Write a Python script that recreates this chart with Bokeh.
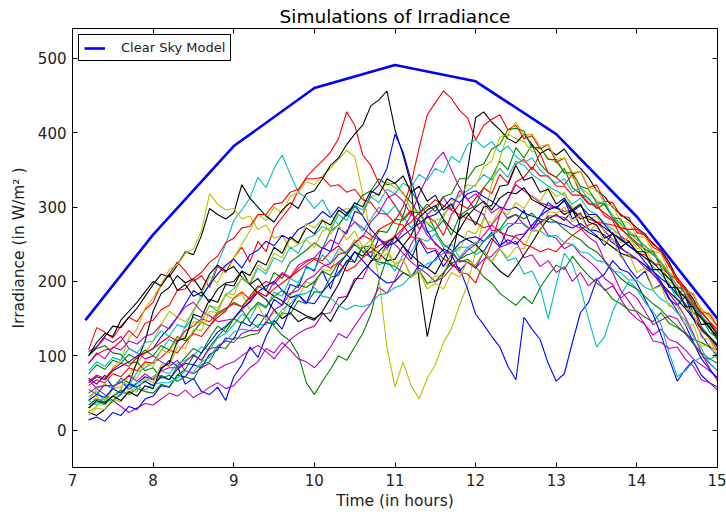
from bokeh.plotting import figure
from bokeh.models import LinearAxis, Range1d, FixedTicker, Legend, LegendItem
from bokeh.embed import file_html
from bokeh.resources import INLINE

# ---------------- data ----------------
# simulation time grid: 7.2 h to 15.0 h, every 0.1 h (79 samples)
sim_hours = [round(7.2 + 0.1 * i, 1) for i in range(79)]

clear_hours = [7.16, 8, 9, 10, 11, 12, 13, 14, 15]
clear_sky = [148, 263, 382, 460, 491, 469, 398, 287, 150]

x_ticks = [7, 8, 9, 10, 11, 12, 13, 14, 15]
y_ticks = [0, 100, 200, 300, 400, 500]

sim_00 = [70, 62, 74, 58, 66, 55, 63, 72,
          68, 82, 94, 86, 62, 70, 52, 48, 58, 40,
          72, 88, 112, 98, 126, 148, 136, 164, 182, 170,
          198, 214, 190, 222, 236, 226, 248, 232, 258, 244,
          262, 248, 230, 256, 238, 242, 220, 236, 214, 226,
          218, 240, 258, 246, 272, 280, 296, 270, 288, 306,
          298, 310, 284, 292, 270, 262, 248, 266, 236, 218,
          204, 214, 190, 196, 176, 168, 180, 150, 138, 126,
          112]
sim_01 = [55, 48, 62, 56, 70, 64, 58, 66,
          60, 74, 68, 86, 98, 110, 104, 124, 140, 132,
          150, 162, 146, 138, 156, 140, 128, 120, 102, 64,
          48, 66, 82, 100, 94, 112, 130, 156, 200, 232,
          262, 288, 322, 304, 290, 270, 282, 262, 288, 296,
          302, 326, 340, 362, 350, 380, 366, 384, 358, 346,
          340, 352, 326, 318, 312, 298, 304, 286, 272, 260,
          250, 238, 242, 222, 210, 184, 190, 168, 152, 140,
          122]
sim_02 = [108, 138, 132, 124, 140, 152, 146, 162,
          172, 196, 210, 226, 214, 200, 208, 192, 220, 212,
          232, 246, 226, 254, 240, 272, 286, 300, 322, 340,
          352, 362, 374, 392, 428, 410, 370, 356, 332, 318,
          302, 284, 296, 270, 288, 280, 262, 290, 304, 298,
          312, 326, 318, 344, 332, 358, 364, 350, 372, 346,
          340, 330, 344, 318, 306, 300, 292, 284, 270, 262,
          252, 244, 236, 226, 210, 194, 188, 170, 160, 146,
          132]
sim_03 = [45, 52, 40, 58, 66, 60, 78, 84,
          92, 108, 122, 116, 140, 162, 178, 196, 224, 250,
          282, 296, 312, 340, 326, 352, 370, 344, 320, 312,
          298, 310, 290, 276, 292, 280, 268, 284, 300, 290,
          302, 288, 272, 284, 266, 270, 290, 302, 316, 322,
          330, 344, 336, 352, 340, 362, 356, 344, 336, 328,
          322, 316, 304, 312, 296, 290, 278, 270, 262, 248,
          240, 232, 220, 210, 196, 176, 170, 152, 140, 126,
          116]
sim_04 = [68, 56, 48, 40, 32, 24, 30, 36,
          34, 42, 50, 46, 54, 44, 50, 58, 64, 56,
          60, 72, 84, 92, 110, 104, 118, 108, 96, 92,
          84, 96, 112, 130, 124, 140, 156, 170, 192, 184,
          202, 226, 250, 268, 290, 300, 314, 296, 322, 310,
          318, 306, 292, 300, 284, 290, 276, 268, 280, 262,
          258, 244, 250, 236, 228, 218, 204, 196, 176, 160,
          150, 142, 128, 136, 122, 118, 108, 96, 88, 80,
          70]
sim_05 = [25, 32, 44, 38, 56, 74, 90, 104,
          120, 142, 160, 152, 146, 158, 184, 206, 198, 220,
          232, 250, 268, 290, 282, 300, 292, 314, 320, 334,
          330, 342, 352, 364, 376, 368, 318, 262, 204, 112,
          58, 92, 60, 42, 70, 88, 118, 136, 168, 196,
          240, 284, 330, 366, 398, 392, 388, 374, 380, 366,
          360, 348, 340, 326, 318, 310, 302, 290, 276, 268,
          260, 248, 240, 226, 212, 200, 190, 176, 164, 152,
          140]
sim_06 = [100, 112, 126, 140, 138, 152, 164, 180,
          196, 210, 206, 222, 240, 236, 262, 298, 290, 284,
          292, 330, 312, 300, 288, 280, 296, 306, 298, 318,
          322, 338, 356, 366, 384, 398, 410, 436, 444, 456,
          404, 370, 330, 200, 126, 178, 210, 230, 280, 350,
          420, 428, 414, 404, 392, 386, 398, 384, 372, 378,
          370, 378, 362, 352, 340, 322, 314, 300, 290, 282,
          272, 264, 250, 242, 226, 204, 192, 176, 154, 138,
          122]
sim_07 = [14, 18, 12, 24, 20, 32, 28, 42,
          46, 60, 58, 74, 72, 88, 84, 102, 108, 124,
          122, 146, 140, 156, 152, 176, 168, 196, 192, 220,
          214, 246, 240, 272, 264, 294, 290, 318, 330, 352,
          398, 374, 336, 300, 268, 250, 242, 222, 218, 190,
          156, 142, 126, 112, 86, 68, 152, 136, 122, 90,
          66, 76, 118, 158, 172, 202, 210, 228, 216, 212,
          198, 176, 156, 128, 96, 66, 82, 94, 74, 64,
          58]
sim_08 = [76, 88, 82, 94, 90, 102, 96, 108,
          100, 114, 108, 126, 120, 132, 146, 140, 156, 162,
          172, 166, 180, 194, 188, 212, 204, 226, 234, 242,
          252, 244, 268, 276, 290, 300, 316, 322, 338, 330,
          332, 318, 306, 290, 278, 268, 250, 242, 226, 230,
          220, 206, 198, 184, 176, 168, 180, 170, 192, 208,
          222, 216, 234, 220, 208, 198, 190, 176, 170, 162,
          160, 152, 146, 158, 144, 138, 130, 122, 118, 112,
          108]
sim_09 = [60, 68, 64, 76, 72, 84, 80, 92,
          90, 98, 108, 104, 118, 130, 126, 140, 152, 160,
          178, 186, 176, 192, 200, 196, 210, 204, 218, 226,
          232, 228, 240, 248, 236, 252, 262, 256, 270, 276,
          282, 300, 332, 380, 424, 440, 456, 446, 430, 420,
          390, 410, 418, 424, 404, 410, 392, 396, 378, 384,
          360, 366, 344, 348, 326, 330, 308, 306, 288, 286,
          266, 262, 246, 240, 220, 206, 190, 182, 160, 156,
          140]
sim_10 = [30, 38, 34, 46, 52, 58, 64, 66,
          72, 80, 76, 90, 94, 100, 112, 108, 124, 130,
          142, 156, 150, 170, 164, 186, 180, 204, 198, 218,
          216, 236, 224, 244, 238, 256, 240, 240, 222, 228,
          214, 236, 240, 258, 254, 264, 246, 250, 232, 246,
          236, 242, 226, 244, 228, 232, 210, 214, 192, 150,
          196, 238, 224, 192, 150, 112, 126, 160, 182, 200,
          190, 172, 160, 142, 104, 72, 80, 92, 98, 96,
          100]
sim_11 = [106, 112, 124, 118, 126, 110, 104, 96,
          100, 92, 86, 94, 80, 76, 84, 90, 82, 88,
          92, 100, 108, 114, 106, 96, 110, 122, 130, 136,
          140, 156, 158, 178, 180, 204, 204, 228, 230, 250,
          252, 270, 290, 318, 340, 362, 374, 350, 326, 310,
          296, 290, 268, 270, 250, 254, 232, 236, 220, 228,
          212, 220, 200, 212, 194, 204, 188, 194, 178, 186,
          178, 160, 142, 148, 154, 150, 132, 118, 102, 90,
          80]
sim_12 = [40, 56, 62, 84, 94, 124, 136, 164,
          178, 196, 216, 222, 238, 244, 268, 318, 304, 296,
          298, 284, 288, 270, 276, 258, 262, 244, 250, 256,
          246, 268, 272, 294, 298, 296, 290, 314, 318, 334,
          326, 320, 296, 294, 278, 282, 286, 308, 314, 330,
          328, 354, 362, 394, 398, 414, 396, 398, 382, 384,
          364, 366, 346, 348, 326, 324, 304, 302, 280, 280,
          260, 260, 240, 238, 212, 204, 186, 184, 160, 158,
          146]
sim_13 = [24, 20, 28, 40, 48, 62, 92, 120,
          160, 184, 192, 208, 198, 204, 188, 210, 222, 214,
          220, 206, 196, 184, 176, 162, 150, 158, 146, 152,
          148, 160, 178, 196, 222, 240, 234, 246, 238, 228,
          230, 248, 262, 286, 296, 302, 284, 270, 262, 256,
          250, 238, 226, 214, 206, 220, 236, 252, 270, 284,
          290, 282, 296, 274, 266, 260, 254, 246, 238, 234,
          230, 222, 210, 198, 186, 176, 164, 150, 136, 126,
          114]
sim_14 = [64, 72, 68, 80, 86, 92, 100, 104,
          110, 126, 138, 152, 170, 188, 180, 196, 210, 222,
          230, 218, 236, 242, 254, 248, 262, 256, 270, 276,
          282, 294, 286, 300, 292, 302, 288, 270, 258, 248,
          252, 262, 270, 278, 286, 290, 300, 312, 306, 318,
          322, 314, 308, 300, 296, 300, 292, 288, 284, 280,
          280, 276, 272, 278, 270, 268, 262, 252, 244, 238,
          230, 222, 214, 204, 196, 182, 170, 150, 128, 112,
          100]
sim_15 = [100, 110, 114, 104, 102, 90, 92, 80,
          84, 70, 74, 66, 72, 68, 88, 92, 112, 110,
          124, 124, 128, 130, 146, 142, 158, 156, 174, 170,
          186, 186, 206, 208, 228, 226, 246, 248, 268, 266,
          284, 282, 294, 292, 304, 294, 314, 318, 338, 338,
          354, 358, 378, 384, 404, 406, 402, 380, 380, 364,
          364, 346, 346, 328, 324, 306, 304, 286, 284, 264,
          260, 242, 240, 218, 210, 182, 182, 158, 152, 132,
          124]
sim_16 = [90, 102, 108, 110, 120, 134, 124, 144,
          148, 162, 168, 188, 190, 204, 212, 226, 234, 252,
          258, 272, 274, 290, 290, 304, 306, 320, 324, 338,
          338, 340, 328, 330, 320, 324, 310, 306, 292, 290,
          278, 276, 260, 258, 244, 244, 230, 226, 212, 210,
          198, 226, 252, 290, 310, 334, 340, 354, 342, 342,
          328, 328, 316, 316, 304, 304, 288, 282, 260, 254,
          238, 236, 224, 222, 208, 204, 182, 166, 134, 124,
          108]
sim_17 = [80, 92, 86, 98, 94, 110, 104, 118,
          120, 134, 126, 142, 138, 152, 146, 168, 160, 182,
          190, 204, 196, 218, 210, 232, 226, 246, 238, 258,
          262, 274, 268, 290, 282, 302, 296, 314, 306, 324,
          318, 332, 326, 344, 336, 352, 346, 368, 360, 384,
          390, 380, 388, 374, 382, 368, 360, 366, 350, 340,
          332, 338, 320, 326, 310, 302, 308, 286, 278, 266,
          256, 248, 236, 226, 210, 194, 184, 170, 154, 142,
          130]
sim_18 = [90, 104, 96, 112, 108, 120, 116, 126,
          130, 142, 136, 152, 166, 172, 160, 154, 146, 148,
          150, 162, 174, 186, 180, 200, 212, 206, 222, 228,
          232, 244, 256, 250, 268, 280, 272, 262, 256, 252,
          250, 238, 226, 218, 210, 200, 206, 218, 230, 242,
          250, 262, 276, 290, 310, 330, 322, 314, 306, 302,
          300, 294, 296, 288, 284, 280, 268, 256, 246, 236,
          230, 218, 210, 196, 184, 170, 152, 130, 104, 84,
          66]
sim_19 = [30, 46, 36, 56, 58, 74, 70, 90,
          86, 108, 104, 124, 126, 146, 144, 168, 164, 182,
          176, 184, 162, 168, 148, 158, 154, 180, 178, 200,
          194, 216, 214, 240, 236, 256, 240, 248, 228, 238,
          224, 230, 208, 216, 196, 208, 206, 240, 242, 268,
          264, 284, 278, 296, 290, 306, 298, 316, 308, 326,
          314, 320, 298, 304, 284, 288, 266, 272, 252, 260,
          244, 246, 224, 224, 198, 196, 166, 158, 124, 122,
          102]
sim_20 = [100, 118, 130, 126, 148, 160, 172, 186,
          200, 194, 210, 188, 196, 180, 186, 172, 190, 198,
          200, 214, 196, 204, 188, 180, 174, 166, 160, 154,
          150, 158, 146, 166, 178, 200, 214, 226, 240, 252,
          260, 248, 236, 226, 218, 210, 230, 252, 270, 288,
          300, 308, 296, 312, 320, 318, 326, 310, 304, 298,
          300, 290, 296, 284, 288, 280, 272, 264, 256, 248,
          240, 232, 226, 214, 204, 190, 178, 164, 150, 138,
          126]
sim_21 = [40, 48, 44, 56, 50, 62, 58, 66,
          60, 72, 68, 82, 90, 88, 104, 118, 132, 140,
          150, 164, 172, 186, 194, 200, 188, 178, 182, 172,
          170, 186, 198, 212, 226, 240, 228, 216, 206, 198,
          200, 212, 206, 222, 218, 230, 244, 238, 252, 258,
          260, 254, 266, 248, 256, 250, 262, 276, 288, 296,
          300, 308, 294, 302, 290, 290, 276, 264, 258, 248,
          240, 226, 214, 200, 178, 160, 142, 118, 96, 82,
          70]
sim_22 = [34, 42, 38, 46, 54, 48, 56, 52,
          50, 62, 58, 74, 82, 100, 94, 112, 126, 138,
          150, 144, 160, 172, 166, 180, 188, 182, 196, 192,
          200, 214, 208, 226, 236, 250, 240, 232, 226, 224,
          220, 212, 206, 214, 198, 200, 212, 224, 230, 236,
          240, 254, 262, 270, 286, 290, 284, 292, 280, 286,
          280, 270, 262, 256, 246, 240, 228, 216, 204, 196,
          190, 180, 170, 162, 150, 140, 130, 116, 104, 96,
          90]
sim_23 = [66, 74, 70, 82, 90, 86, 98, 104,
          110, 118, 126, 120, 134, 140, 150, 146, 158, 164,
          170, 166, 178, 186, 180, 190, 198, 206, 214, 222,
          230, 224, 218, 226, 214, 220, 232, 240, 248, 254,
          260, 272, 280, 292, 300, 310, 302, 296, 290, 284,
          280, 272, 276, 266, 262, 260, 250, 246, 240, 244,
          240, 252, 262, 270, 276, 280, 278, 276, 272, 270,
          270, 262, 252, 240, 222, 200, 190, 172, 158, 146,
          136]
sim_24 = [40, 34, 46, 38, 50, 50, 60, 54,
          62, 64, 64, 70, 80, 78, 92, 98, 114, 120,
          132, 136, 134, 142, 142, 148, 162, 170, 182, 184,
          192, 180, 178, 168, 162, 168, 166, 170, 182, 184,
          192, 196, 208, 212, 224, 228, 238, 238, 246, 246,
          252, 254, 264, 268, 278, 278, 278, 268, 268, 260,
          262, 252, 250, 240, 238, 228, 226, 214, 212, 202,
          202, 192, 188, 176, 170, 158, 148, 126, 110, 90,
          80]
sim_25 = [50, 58, 60, 60, 64, 74, 66, 76,
          68, 80, 84, 84, 92, 102, 94, 110, 112, 120,
          118, 130, 134, 134, 144, 162, 168, 184, 188, 202,
          208, 220, 224, 236, 240, 252, 260, 280, 292, 312,
          318, 308, 290, 282, 262, 252, 240, 238, 228, 226,
          218, 230, 234, 246, 250, 262, 264, 276, 278, 288,
          288, 286, 276, 272, 260, 252, 228, 212, 188, 174,
          158, 142, 120, 118, 110, 112, 96, 86, 68, 64,
          54]
sim_26 = [20, 30, 28, 42, 38, 56, 52, 70,
          64, 88, 86, 112, 110, 136, 134, 160, 158, 184,
          182, 206, 198, 222, 214, 238, 232, 258, 250, 278,
          272, 284, 264, 276, 256, 268, 246, 256, 234, 244,
          222, 230, 206, 214, 190, 198, 190, 212, 206, 228,
          222, 240, 226, 244, 232, 246, 244, 270, 268, 294,
          292, 300, 280, 290, 268, 276, 252, 258, 232, 238,
          212, 218, 190, 194, 166, 168, 140, 142, 112, 116,
          94]
sim_27 = [30, 40, 36, 46, 40, 52, 46, 60,
          56, 84, 90, 120, 124, 156, 152, 176, 172, 196,
          194, 214, 208, 228, 222, 246, 238, 260, 252, 272,
          264, 282, 276, 296, 288, 306, 300, 322, 316, 338,
          332, 342, 320, 328, 308, 316, 296, 304, 284, 292,
          276, 300, 302, 328, 330, 356, 336, 340, 320, 324,
          304, 312, 296, 304, 280, 276, 258, 264, 246, 254,
          240, 240, 216, 216, 192, 192, 166, 166, 142, 144,
          128]

simulations = [sim_00, sim_01, sim_02, sim_03, sim_04, sim_05, sim_06,
               sim_07, sim_08, sim_09, sim_10, sim_11, sim_12, sim_13,
               sim_14, sim_15, sim_16, sim_17, sim_18, sim_19, sim_20,
               sim_21, sim_22, sim_23, sim_24, sim_25, sim_26, sim_27]

# matplotlib classic colour cycle b g r c m y k
cycle = ["#0000ff", "#008000", "#ff0000", "#00bfbf", "#bf00bf", "#bfbf00", "#000000"]

FONT = "DejaVu Sans"

# ---------------- figure ----------------
p = figure(width=726, height=515, output_backend="svg", toolbar_location=None,
           x_range=Range1d(7, 15), y_range=Range1d(-50, 540),
           min_border_left=72, min_border_right=9, min_border_top=28,
           min_border_bottom=48, title="Simulations of Irradiance")
p.title.align = "center"
p.title.text_font = FONT
p.title.text_font_size = "18.5px"
p.title.text_font_style = "normal"
p.title.text_color = "#000000"
p.title.standoff = 3
p.grid.visible = False
p.outline_line_color = "#000000"
p.outline_line_width = 1
p.background_fill_color = "white"
p.border_fill_color = "white"

def style_axis(ax, ticks, show_labels):
    ax.ticker = FixedTicker(ticks=ticks)
    ax.major_tick_in = 5
    ax.major_tick_out = 0
    ax.major_tick_line_color = "#000000"
    ax.minor_tick_line_color = None
    ax.axis_line_color = "#000000"
    if show_labels:
        ax.major_label_text_font = FONT
        ax.major_label_text_font_size = "15px"
        ax.major_label_text_color = "#222222"
        ax.major_label_standoff = 6
        ax.axis_label_text_font = FONT
        ax.axis_label_text_font_size = "15.5px"
        ax.axis_label_text_font_style = "normal"
        ax.axis_label_text_color = "#222222"
    else:
        ax.major_label_text_font_size = "1px"
        ax.major_label_text_color = None
        ax.major_label_standoff = 0

style_axis(p.xaxis[0], x_ticks, True)
style_axis(p.yaxis[0], y_ticks, True)
p.xaxis[0].axis_label = "Time (in hours)"
p.xaxis[0].axis_label_standoff = 3
p.yaxis[0].axis_label = "Irradiance (in W/m² )"
p.yaxis[0].axis_label_standoff = 7

top_axis = LinearAxis()
style_axis(top_axis, x_ticks, False)
p.add_layout(top_axis, "above")
right_axis = LinearAxis()
style_axis(right_axis, y_ticks, False)
p.add_layout(right_axis, "right")

r_clear = p.line(clear_hours, clear_sky, line_color="#0000ff", line_width=2.6)

for i, vals in enumerate(simulations):
    v = vals[:len(sim_hours)]
    p.line(sim_hours[:len(v)], v, line_color=cycle[i % len(cycle)], line_width=1.1)

legend = Legend(items=[LegendItem(label="Clear Sky Model", renderers=[r_clear])],
                location="top_left")
legend.border_line_color = "#000000"
legend.border_line_width = 1
legend.border_line_alpha = 1
legend.background_fill_color = "white"
legend.background_fill_alpha = 1
legend.label_text_font = FONT
legend.label_text_font_size = "13px"
legend.label_text_color = "#222222"
legend.glyph_width = 21
legend.glyph_height = 12
legend.label_height = 12
legend.label_standoff = 16
legend.padding = 5
legend.margin = 6
legend.spacing = 0
p.add_layout(legend)

open("out.html", "w").write(file_html(p, INLINE))
